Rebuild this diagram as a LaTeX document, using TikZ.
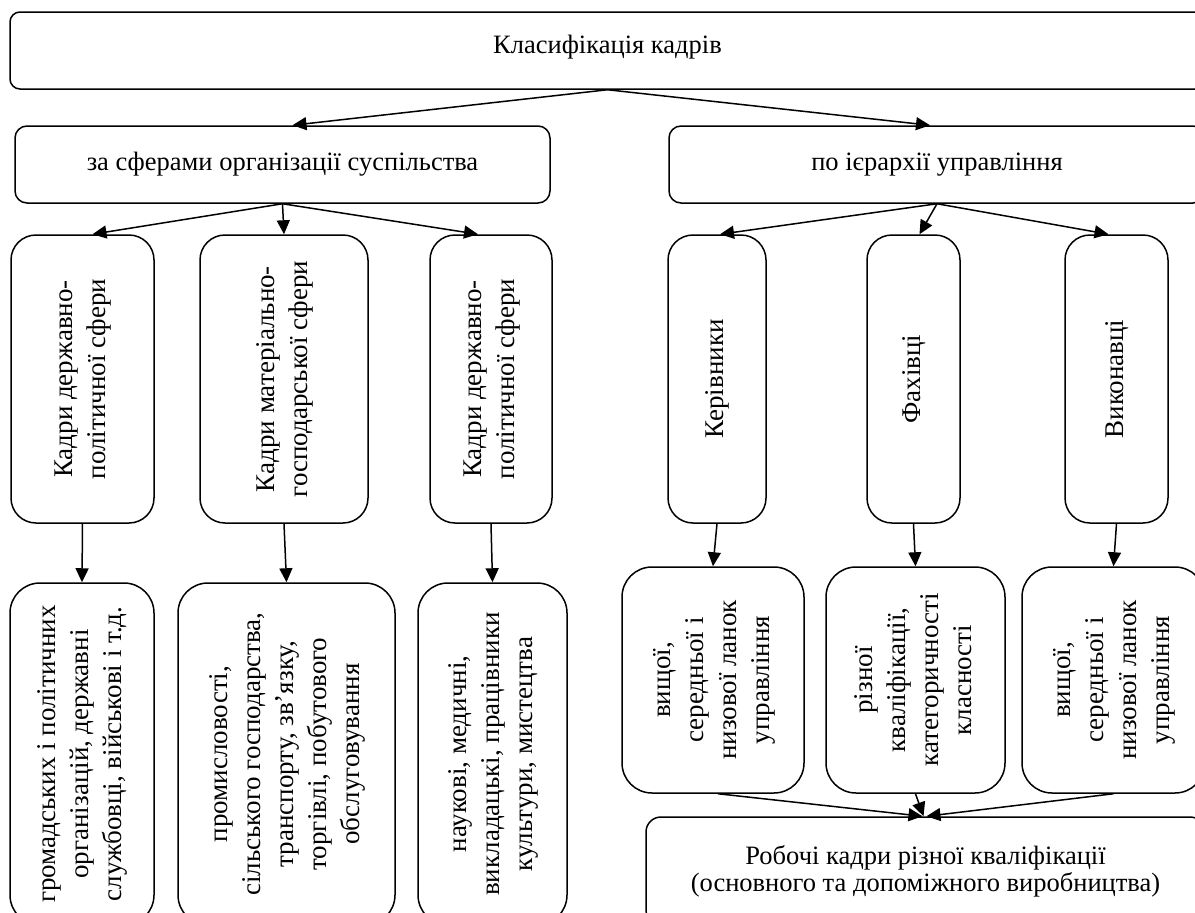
\documentclass[tikz,border=0pt]{standalone}
\usepackage{fontspec}
\setmainfont{Liberation Serif}
\usepackage{graphicx}
\usetikzlibrary{arrows.meta}
\newcommand\hfont{\fontsize{26.5}{27}\selectfont}
\newcommand\vfnt{\fontsize{27}{33}\selectfont}
\newcommand\vtext[1]{\rotatebox{90}{\vfnt\begin{tabular}{@{}c@{}}#1\end{tabular}}}
\tikzset{
  box/.style={draw, line width=1.5pt, rounded corners=#1, inner sep=0pt, align=center, font=\hfont},
  box/.default=12pt,
  conn/.style={line width=1.5pt, -{Triangle[length=14pt,width=13pt]}}
}
\begin{document}
\begin{tikzpicture}[x=1pt,y=-1pt]
\useasboundingbox (0,0) rectangle (1195,913);
\clip (0,0) rectangle (1195,913);
% level 0
\node[box=10pt, minimum width=1195pt, minimum height=77pt, text depth=12pt] (top) at (607.5,50.5) {Класифікація кадрів};
% level 1
\node[box, minimum width=535pt, minimum height=77pt] (ml) at (282.5,164.5) {за сферами організації суспільства};
\node[box, minimum width=536pt, minimum height=77pt] (mr) at (937,164.5) {по ієрархії управління};
% level 2 left
\node[box=25pt, minimum width=143pt, minimum height=288pt] (b1) at (82.5,379) {\vtext{Кадри державно-\\політичної сфери}};
\node[box=25pt, minimum width=168pt, minimum height=288pt] (b2) at (284,379) {\vtext{Кадри матеріально-\\господарської сфери}};
\node[box=25pt, minimum width=122pt, minimum height=288pt] (b3) at (491,379) {\vtext{Кадри державно-\\політичної сфери}};
% level 3 left
\node[box=30pt, minimum width=144pt, minimum height=342pt] (bb1) at (82,754) {\vtext{громадських і політичних\\організацій, державні\\службовці, військові і т.д.}};
\node[box=30pt, minimum width=217pt, minimum height=342pt] (bb2) at (286.5,754) {\vtext{промисловості,\\сільського господарства,\\транспорту, зв’язку,\\торгівлі, побутового\\обслуговування}};
\node[box=30pt, minimum width=149pt, minimum height=342pt] (bb3) at (492.5,754) {\vtext{наукові, медичні,\\викладацькі, працівники\\культури, мистецтва}};
% level 2 right
\node[box=25pt, minimum width=98pt, minimum height=288pt] (r1) at (717,379) {\vtext{Керівники}};
\node[box=25pt, minimum width=93pt, minimum height=288pt] (r2) at (913.5,379) {\vtext{Фахівці}};
\node[box=25pt, minimum width=103pt, minimum height=288pt] (r3) at (1116.5,379) {\vtext{Виконавці}};
% level 3 right
\node[box=30pt, minimum width=182pt, minimum height=226pt] (ra) at (713,680) {\vtext{вищої,\\середньої і\\низової ланок\\управління}};
\node[box=30pt, minimum width=179pt, minimum height=226pt] (rb) at (915.5,680) {\vtext{різної\\кваліфікації,\\категоричності\\класності}};
\node[box=30pt, minimum width=183pt, minimum height=226pt] (rc) at (1113.5,680) {\vtext{вищої,\\середньої і\\низової ланок\\управління}};
% bottom
\node[box=15pt, minimum width=559pt, minimum height=108pt] (bot) at (925.5,871) {Робочі кадри різної кваліфікації\\(основного та допоміжного виробництва)};
% connectors
\draw[conn] (top.south) -- ([xshift=10pt]ml.north);
\draw[conn] (top.south) -- ([xshift=-7pt]mr.north);
\draw[conn] (ml.south) -- ([xshift=10pt]b1.north);
\draw[conn] (ml.south) -- (b2.north);
\draw[conn] (ml.south) -- ([xshift=-13pt]b3.north);
\draw[conn] (b1.south) -- (bb1.north);
\draw[conn] (b2.south) -- (bb2.north);
\draw[conn] (b3.south) -- (bb3.north);
\draw[conn] (mr.south) -- ([xshift=3pt]r1.north);
\draw[conn] (mr.south) -- ([xshift=6pt]r2.north);
\draw[conn] (mr.south) -- ([xshift=-8pt]r3.north);
\draw[conn] (r1.south) -- (ra.north);
\draw[conn] (r2.south) -- (rb.north);
\draw[conn] (r3.south) -- (rc.north);
\draw[conn] ([xshift=5pt]ra.south) -- ([xshift=-3pt]bot.north);
\draw[conn] (rb.south) -- ([xshift=-2pt]bot.north);
\draw[conn] (rc.south) -- ([xshift=1pt]bot.north);
\end{tikzpicture}
\end{document}
